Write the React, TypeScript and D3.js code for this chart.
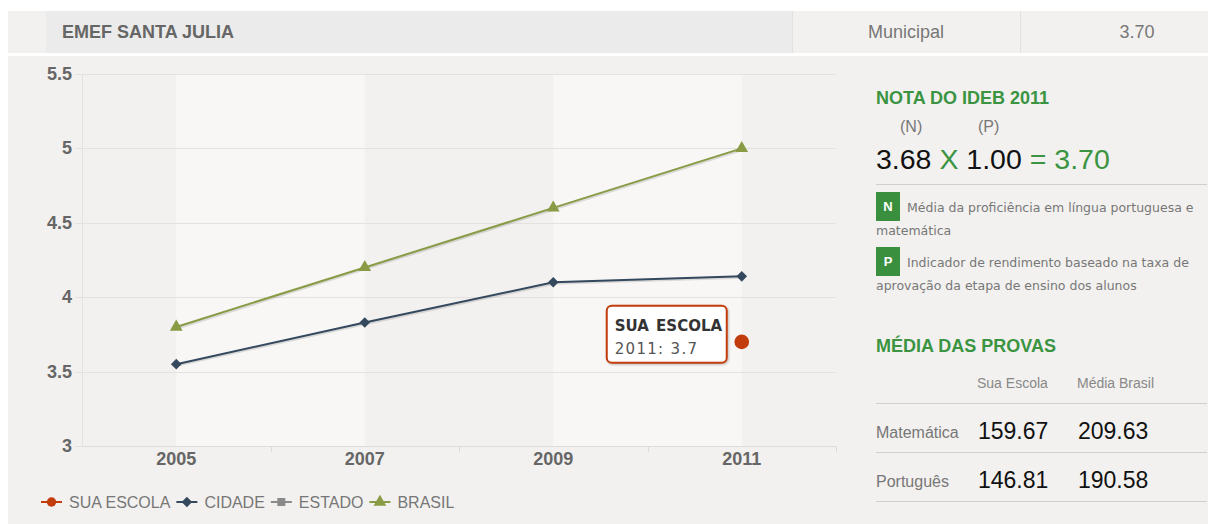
import { useEffect, useRef } from 'react';
import * as d3 from 'd3';

// ─── Data ─────────────────────────────────────────────────
const years = ['2005', '2007', '2009', '2011'];
const suaEscola: (number | null)[] = [null, null, null, 3.7];
const cidade: (number | null)[] = [3.55, 3.83, 4.1, 4.14];
const estado: (number | null)[] = [null, null, null, null];
const brasil: (number | null)[] = [3.8, 4.2, 4.6, 5.0];
const yTicks = [3, 3.5, 4, 4.5, 5, 5.5];

const seriesNames = ['SUA ESCOLA', 'CIDADE', 'ESTADO', 'BRASIL'];
const seriesColors = ['#c23c0c', '#34495e', '#8a8a8a', '#899b45'];
const seriesSymbols = ['circle', 'diamond', 'square', 'triangle'];

const headerCells = ['EMEF SANTA JULIA', 'Municipal', '3.70'];
const idebParts = ['3.68', 'X', '1.00', '= 3.70'];
const provasCols = ['Sua Escola', 'Média Brasil'];
const provasRows = ['Matemática', 'Português'];
const provasEscola = ['159.67', '146.81'];
const provasBrasil = ['209.63', '190.58'];

const W = 1216;
const H = 524;
const GREEN = '#3a9441';
const SANS = 'Liberation Sans, Arial, sans-serif';
const VERD = 'DejaVu Sans, Verdana, sans-serif';

export default function App() {
  const svgRef = useRef<SVGSVGElement>(null);

  useEffect(() => {
    if (!svgRef.current) return;
    const svg = d3.select(svgRef.current);
    svg.selectAll('*').remove();

    const defs = svg.append('defs');
    const sh = defs.append('filter').attr('id', 'shadow').attr('x', '-10%').attr('y', '-10%').attr('width', '130%').attr('height', '140%');
    sh.append('feDropShadow').attr('dx', 1).attr('dy', 1).attr('stdDeviation', 1).attr('flood-color', '#000').attr('flood-opacity', 0.25);

    // ─── Page backgrounds ─────────────────────────────────
    svg.append('rect').attr('width', W).attr('height', H).attr('fill', '#ffffff');
    svg.append('rect').attr('x', 8).attr('y', 56).attr('width', 1200).attr('height', H - 56).attr('fill', '#f2f1ef');

    // header
    svg.append('rect').attr('x', 8).attr('y', 11).attr('width', 1200).attr('height', 42).attr('fill', '#f2f1ef');
    svg.append('rect').attr('x', 46).attr('y', 11).attr('width', 746).attr('height', 42).attr('fill', '#ebebeb');
    svg.append('line').attr('x1', 1020.5).attr('x2', 1020.5).attr('y1', 11).attr('y2', 53).attr('stroke', '#e2e1df');
    svg.append('line').attr('x1', 792.5).attr('x2', 792.5).attr('y1', 11).attr('y2', 53).attr('stroke', '#e2e1df');
    svg.append('text').attr('x', 62).attr('y', 38).text(headerCells[0])
      .attr('font-family', SANS).attr('font-weight', 'bold').attr('font-size', 18).attr('fill', '#666');
    svg.append('text').attr('x', 906).attr('y', 38).attr('text-anchor', 'middle').text(headerCells[1])
      .attr('font-family', SANS).attr('font-size', 18).attr('fill', '#777');
    svg.append('text').attr('x', 1137).attr('y', 38).attr('text-anchor', 'middle').text(headerCells[2])
      .attr('font-family', SANS).attr('font-size', 18).attr('fill', '#777');

    // ─── Scales ───────────────────────────────────────────
    const x = d3.scaleBand<string>().domain(years).range([82, 836]);
    const cx = (d: string) => (x(d) ?? 0) + x.bandwidth() / 2;
    const y = d3.scaleLinear().domain([3, 5.5]).range([446, 74]);

    const g = svg.append('g');

    // plot bands (between category centres)
    [[0, 1], [2, 3]].forEach(([a, b]) => {
      g.append('rect')
        .attr('x', cx(years[a]))
        .attr('y', y(5.5))
        .attr('width', cx(years[b]) - cx(years[a]))
        .attr('height', y(3) - y(5.5))
        .attr('fill', '#f8f7f5');
    });

    // grid + y ticks
    g.selectAll('.grid').data(yTicks).join('line')
      .attr('x1', 75).attr('x2', 836)
      .attr('y1', (d) => Math.round(y(d)) + 0.5).attr('y2', (d) => Math.round(y(d)) + 0.5)
      .attr('stroke', '#e3e2e0');
    g.append('line').attr('x1', 82.5).attr('x2', 82.5).attr('y1', y(5.5)).attr('y2', y(3))
      .attr('stroke', '#e3e2e0');
    g.selectAll('.ylab').data(yTicks).join('text')
      .attr('x', 72).attr('y', (d) => y(d) + 6)
      .attr('text-anchor', 'end')
      .text((d) => d3.format('~g')(d))
      .attr('font-family', SANS).attr('font-weight', 'bold').attr('font-size', 18).attr('fill', '#666');

    // x axis
    g.append('line').attr('x1', 82).attr('x2', 837).attr('y1', 446.5).attr('y2', 446.5).attr('stroke', '#dddcda');
    const bounds = years.slice(1).map((d) => x(d) ?? 0).concat([836]);
    g.selectAll('.xt').data(bounds).join('line')
      .attr('x1', (d) => Math.round(d) + 0.5).attr('x2', (d) => Math.round(d) + 0.5)
      .attr('y1', 446).attr('y2', 452).attr('stroke', '#dddcda');
    g.selectAll('.xlab').data(years).join('text')
      .attr('x', (d) => cx(d)).attr('y', 465)
      .attr('text-anchor', 'middle')
      .text((d) => d)
      .attr('font-family', SANS).attr('font-weight', 'bold').attr('font-size', 18).attr('fill', '#666');

    // ─── Series ───────────────────────────────────────────
    const allSeries = [suaEscola, cidade, estado, brasil];
    const symbolType = (s: string) =>
      s === 'circle' ? d3.symbolCircle : s === 'triangle' ? d3.symbolTriangle : d3.symbolSquare;
    const symbolSize = (s: string) => (s === 'circle' ? 170 : s === 'diamond' ? 56 : s === 'square' ? 64 : 70);
    const symbolRot = (s: string) => (s === 'diamond' ? ' rotate(45)' : '');

    [3, 1, 2, 0].forEach((si) => {
      const values = allSeries[si];
      const pts = years.map((yr, i) => ({ yr, v: values[i] })).filter((p) => p.v !== null) as { yr: string; v: number }[];
      if (!pts.length) return;
      const line = d3.line<{ yr: string; v: number }>().x((p) => cx(p.yr)).y((p) => y(p.v));
      if (pts.length > 1) {
        g.append('path').datum(pts).attr('d', line)
          .attr('fill', 'none').attr('stroke', '#000').attr('stroke-opacity', 0.12)
          .attr('stroke-width', 3).attr('transform', 'translate(1,1)');
        g.append('path').datum(pts).attr('d', line)
          .attr('fill', 'none').attr('stroke', seriesColors[si]).attr('stroke-width', 2);
      }
      const sym = seriesSymbols[si];
      g.selectAll(null).data(pts).join('path')
        .attr('transform', (p) => `translate(${cx(p.yr)},${y(p.v)})${symbolRot(sym)}`)
        .attr('d', d3.symbol().type(symbolType(sym)).size(symbolSize(sym))())
        .attr('fill', seriesColors[si]);
    });

    // ─── Tooltip ──────────────────────────────────────────
    const lastIdx = suaEscola.length - 1;
    const tipX = cx(years[lastIdx]);
    const tipY = y(suaEscola[lastIdx] as number);
    const tw = 120;
    const th = 57;
    const tx = tipX - 15 - tw;
    const ty = tipY - 36;
    const tip = g.append('g').attr('transform', `translate(${tx},${ty})`);
    tip.append('rect').attr('width', tw).attr('height', th).attr('rx', 5)
      .attr('fill', '#ffffff').attr('stroke', seriesColors[0]).attr('stroke-width', 2)
      .attr('filter', 'url(#shadow)');
    tip.append('text').attr('x', 8).attr('y', 25).text(seriesNames[0])
      .attr('font-family', VERD).attr('font-weight', 'bold').attr('font-size', 15)
      .attr('word-spacing', 2).attr('fill', '#333');
    tip.append('text').attr('x', 8).attr('y', 48).text(`${years[lastIdx]}: ${suaEscola[lastIdx]}`)
      .attr('font-family', VERD).attr('font-size', 15).attr('letter-spacing', 1.3).attr('fill', '#555');

    // ─── Legend ───────────────────────────────────────────
    const lg = svg.append('g').attr('transform', 'translate(41,502)');
    let off = 0;
    seriesNames.forEach((name, i) => {
      const item = lg.append('g').attr('transform', `translate(${off},0)`);
      const sym = seriesSymbols[i];
      item.append('line').attr('x1', 0).attr('x2', 21).attr('y1', 0).attr('y2', 0)
        .attr('stroke', seriesColors[i]).attr('stroke-width', 2);
      item.append('path').attr('transform', `translate(10.5,0)${symbolRot(sym)}`)
        .attr('d', d3.symbol().type(symbolType(sym)).size(i === 0 ? 70 : symbolSize(sym))())
        .attr('fill', seriesColors[i]);
      const t = item.append('text').attr('x', 28).attr('y', 6).text(name)
        .attr('font-family', SANS).attr('font-size', 16).attr('fill', '#777');
      const len = (t.node() as SVGTextElement).getComputedTextLength();
      off += 28 + len + 6;
    });

    // ─── Right panel ──────────────────────────────────────
    const rp = svg.append('g').attr('font-family', SANS);
    rp.append('text').attr('x', 876).attr('y', 104).text('NOTA DO IDEB 2011')
      .attr('font-weight', 'bold').attr('font-size', 18).attr('fill', GREEN);
    rp.append('text').attr('x', 900).attr('y', 132).text('(N)').attr('font-size', 16).attr('fill', '#777');
    rp.append('text').attr('x', 978).attr('y', 132).text('(P)').attr('font-size', 16).attr('fill', '#777');
    const eq = rp.append('text').attr('x', 876).attr('y', 169).attr('font-size', 28.5);
    idebParts.forEach((p, i) => {
      eq.append('tspan').text((i ? ' ' : '') + p).attr('fill', i % 2 === 1 ? GREEN : '#111');
    });
    rp.append('line').attr('x1', 876).attr('x2', 1207).attr('y1', 184.5).attr('y2', 184.5).attr('stroke', '#cfcfcf');

    const note = (yTop: number, letter: string, l1: string, l2: string) => {
      rp.append('rect').attr('x', 876).attr('y', yTop).attr('width', 24).attr('height', 29).attr('fill', '#3a8f3e');
      rp.append('text').attr('x', 888).attr('y', yTop + 19).attr('text-anchor', 'middle').text(letter)
        .attr('font-weight', 'bold').attr('font-size', 13).attr('fill', '#fff');
      rp.append('text').attr('x', 907).attr('y', yTop + 20).text(l1)
        .attr('font-family', VERD).attr('font-size', 12.5).attr('fill', '#777');
      rp.append('text').attr('x', 876).attr('y', yTop + 43).text(l2)
        .attr('font-family', VERD).attr('font-size', 12.5).attr('fill', '#777');
    };
    note(192, 'N', 'Média da proficiência em língua portuguesa e', 'matemática');
    note(247, 'P', 'Indicador de rendimento baseado na taxa de', 'aprovação da etapa de ensino dos alunos');

    rp.append('text').attr('x', 876).attr('y', 352).text('MÉDIA DAS PROVAS')
      .attr('font-weight', 'bold').attr('font-size', 18).attr('fill', GREEN);
    const colX = [977, 1077];
    provasCols.forEach((c, i) => {
      rp.append('text').attr('x', colX[i]).attr('y', 388).text(c).attr('font-size', 14).attr('fill', '#888');
    });
    [403, 452, 501].forEach((ly) => {
      rp.append('line').attr('x1', 876).attr('x2', 1207).attr('y1', ly + 0.5).attr('y2', ly + 0.5).attr('stroke', '#cfcfcf');
    });
    provasRows.forEach((r, i) => {
      const by = 438 + i * 49;
      rp.append('text').attr('x', 876).attr('y', by).text(r).attr('font-size', 16).attr('fill', '#777');
      rp.append('text').attr('x', 978).attr('y', by + 1).text(provasEscola[i]).attr('font-size', 23).attr('fill', '#111');
      rp.append('text').attr('x', 1078).attr('y', by + 1).text(provasBrasil[i]).attr('font-size', 23).attr('fill', '#111');
    });
  }, []);

  return (
    <div style={{ position: 'absolute', left: 0, top: 0, width: W, height: H }}>
      <svg ref={svgRef} width={W} height={H} style={{ display: 'block' }} />
    </div>
  );
}
